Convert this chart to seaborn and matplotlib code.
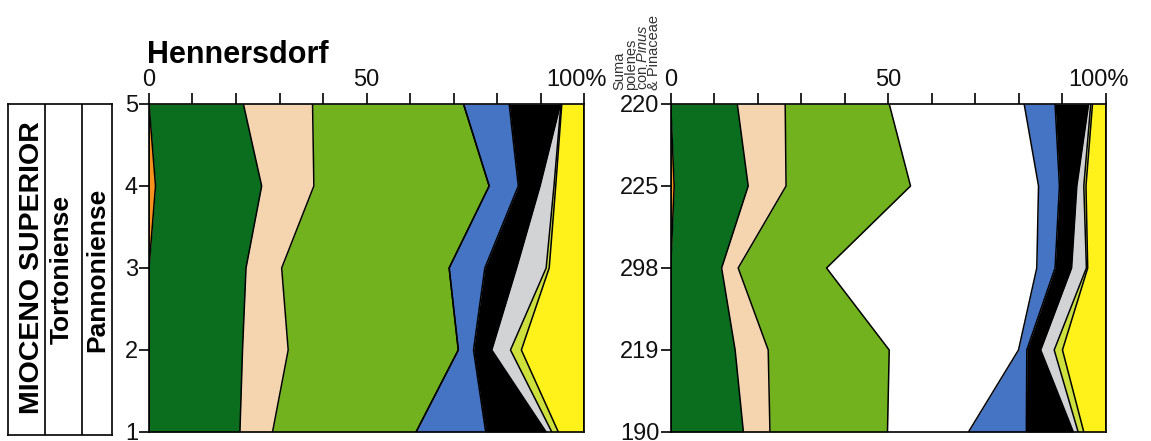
import matplotlib
matplotlib.use("Agg")
import matplotlib.pyplot as plt
import matplotlib.transforms as mtransforms
import seaborn as sns
import numpy as np

# taxon order, left to right in each column
colors = ["#f7941d", "#0b6e1e", "#f5d5b0", "#72b21e", "#ffffff",
          "#4674c4", "#000000", "#d2d3d5", "#cde03c", "#fff21a"]

# Hennersdorf, samples 5 (top) .. 1 (bottom), percent per taxon
hen_samples = [5, 4, 3, 2, 1]
hen_orange = [0, 1.5, 0, 0, 0]
hen_dkgreen = [21.7, 24.4, 22.3, 21.5, 20.9]
hen_beige = [15.9, 12.0, 8.2, 10.5, 7.5]
hen_ltgreen = [34.7, 40.3, 38.5, 39.1, 33.0]
hen_pinus = [0, 0, 0, 0, 0]
hen_blue = [10.5, 6.7, 8.2, 3.5, 16.0]
hen_black = [11.8, 5.0, 7.3, 4.2, 13.9]
hen_gray = [0.1, 3.2, 6.8, 4.3, 1.3]
hen_lime = [0.2, 0.4, 0.7, 2.5, 1.5]
hen_yellow = [5.1, 6.5, 8.0, 14.4, 5.9]

# second column, samples listed top to bottom
sec_samples = ["220", "225", "298", "219", "190"]
sec_orange = [0, 0.8, 0, 0, 0]
sec_dkgreen = [15.3, 17.0, 11.7, 14.8, 16.7]
sec_beige = [11.0, 8.7, 3.8, 7.6, 6.1]
sec_ltgreen = [23.9, 28.6, 20.3, 27.8, 27.0]
sec_pinus = [31.0, 29.4, 48.3, 29.7, 18.6]
sec_blue = [7.1, 4.8, 4.2, 1.9, 13.3]
sec_black = [7.7, 4.0, 3.8, 3.2, 10.8]
sec_gray = [0.5, 1.6, 3.4, 3.1, 1.1]
sec_lime = [0.4, 0.5, 0.3, 1.9, 1.3]
sec_yellow = [3.1, 4.6, 4.2, 10.0, 5.1]

xticks = list(range(0, 101, 10))
xlabels = ["0", "", "", "", "", "50", "", "", "", "", "100%"]

sns.set_style("ticks")
plt.rcParams["font.family"] = ["Liberation Sans", "DejaVu Sans"]
plt.rcParams["mathtext.fontset"] = "custom"
plt.rcParams["mathtext.rm"] = "Liberation Sans"
plt.rcParams["mathtext.it"] = "Liberation Sans:italic"
plt.rcParams["text.color"] = "black"
plt.rcParams["xtick.color"] = "black"
plt.rcParams["ytick.color"] = "black"
plt.rcParams["xtick.labelcolor"] = "#111111"
plt.rcParams["ytick.labelcolor"] = "#111111"

W, H = 1151, 441
fig = plt.figure(figsize=(W / 100, H / 100), dpi=100)


def draw_column(ax, ypos, taxa):
    left = np.zeros(len(ypos))
    bounds = [left.copy()]
    for vals, c in zip(taxa, colors):
        right = left + np.array(vals)
        ax.fill_betweenx(ypos, left, right, color=c, lw=0)
        bounds.append(right)
        left = right
    for b in bounds:
        sns.lineplot(x=b, y=ypos, sort=False, estimator=None, color="black",
                     lw=1.1, ax=ax, legend=False)
    ax.set_xlim(0, 100)
    ax.xaxis.tick_top()
    ax.set_xticks(xticks)
    ax.set_xticklabels(xlabels)
    ax.tick_params(axis="x", direction="out", length=8, width=1.2, pad=1, labelsize=17)
    ax.tick_params(axis="y", direction="out", length=7, width=1.2, pad=1, labelsize=17)
    ax.set_xlabel("")
    ax.set_ylabel("")
    for s in ax.spines.values():
        s.set_visible(True)
        s.set_linewidth(1.2)
        s.set_color("black")
    # "100%" sits a little left of its tick
    lab = ax.get_xticklabels()[-1]
    lab.set_transform(lab.get_transform() +
                      mtransforms.ScaledTranslation(-8 / 100, 0, fig.dpi_scale_trans))


ax1 = fig.add_axes([149 / W, 9 / H, 435 / W, 328 / H])
draw_column(ax1, np.array(hen_samples, dtype=float),
            [hen_orange, hen_dkgreen, hen_beige, hen_ltgreen, hen_pinus,
             hen_blue, hen_black, hen_gray, hen_lime, hen_yellow])
ax1.set_ylim(1, 5)
ax1.set_yticks(hen_samples)
ax1.set_yticklabels([str(s) for s in hen_samples])

ax2 = fig.add_axes([670.7 / W, 9 / H, 435.3 / W, 328 / H])
ypos2 = np.arange(len(sec_samples))[::-1].astype(float)
draw_column(ax2, ypos2,
            [sec_orange, sec_dkgreen, sec_beige, sec_ltgreen, sec_pinus,
             sec_blue, sec_black, sec_gray, sec_lime, sec_yellow])
ax2.set_ylim(0, len(sec_samples) - 1)
ax2.set_yticks(ypos2)
ax2.set_yticklabels(sec_samples)

fig.text(147 / W, (H - 63) / H, "Hennersdorf", fontsize=22, fontweight="bold",
         ha="left", va="baseline")

fig.text(637 / W, (H - 90) / H, "Suma\npolenes\ncon $\\it{Pinus}$\n& Pinaceae",
         fontsize=10.5, rotation=90, ha="center", va="bottom",
         multialignment="left", linespacing=0.75, color="#333333")

# stratigraphic label box
axb = fig.add_axes([8 / W, 6 / H, 104 / W, 331 / H])
axb.set_xlim(0, 104)
axb.set_ylim(0, 1)
axb.set_xticks([])
axb.set_yticks([])
for s in axb.spines.values():
    s.set_visible(True)
    s.set_linewidth(1.2)
    s.set_color("black")
axb.axvline(37, color="black", lw=1.2)
axb.axvline(74, color="black", lw=1.2)
axb.text(24, 0.505, "MIOCENO SUPERIOR", rotation=90, ha="center", va="center",
         fontsize=20.5, fontweight="bold")
axb.text(54, 0.5, "Tortoniense", rotation=90, ha="center", va="center",
         fontsize=19, fontweight="bold")
axb.text(89.5, 0.5, "Pannoniense", rotation=90, ha="center", va="center",
         fontsize=19, fontweight="bold")

fig.savefig("out.png", dpi=100, facecolor="white")
